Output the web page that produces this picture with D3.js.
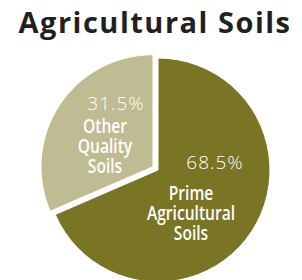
<!DOCTYPE html>
<html>
<head>
<meta charset="utf-8">
<script src="https://cdn.jsdelivr.net/npm/d3@7"></script>
<style>
  body { margin: 0; background: #fff; }
  svg { display: block; font-family: "Open Sans", sans-serif; }
</style>
</head>
<body>
<div id="chart"></div>
<script>
const width = 302;
const height = 280;

const categories = ['Prime Agricultural Soils', 'Other Quality Soils'];
const shares = [68.5, 31.5];
const pctLabels = ['68.5%', '31.5%'];
const nameLines = [['Prime', 'Agricultural', 'Soils'], ['Other', 'Quality', 'Soils']];

const color = d3.scaleOrdinal()
    .domain(categories)
    .range(['#7a7425', '#bfbb93']);

const radius = 112;
const explode = [0, 6];

const svg = d3.select('#chart').append('svg')
    .attr('width', width)
    .attr('height', height);

svg.append('text')
    .attr('x', 155)
    .attr('y', 33)
    .attr('text-anchor', 'middle')
    .style('font-size', '29px')
    .style('font-weight', 700)
    .style('letter-spacing', '1.5px')
    .style('fill', '#231f20')
    .text('Agricultural Soils');

const data = categories.map((c, i) => ({ name: c, value: shares[i], pct: pctLabels[i], lines: nameLines[i], off: explode[i] }));

const pie = d3.pie().sort(null).value(d => d.value);
const arc = d3.arc().innerRadius(0).outerRadius(radius);

const chart = svg.append('g')
    .attr('transform', `translate(${[158, 170]})`);

const slices = chart.selectAll('g.slice')
    .data(pie(data))
    .join('g')
    .attr('class', 'slice')
    .attr('transform', d => {
        const mid = (d.startAngle + d.endAngle) / 2;
        return `translate(${[Math.sin(mid) * d.data.off, -Math.cos(mid) * d.data.off]})`;
    });

slices.append('path')
    .attr('d', arc)
    .style('fill', d => color(d.data.name))
    .style('stroke', '#fff')
    .style('stroke-width', 1);

// label spots relative to each slice's own centre
const pctPos = [[57, -1], [-37, -57]];
const namePos = [[33, 30], [-48, -34]];

slices.append('text')
    .attr('transform', (d, i) => `translate(${pctPos[i]})`)
    .attr('text-anchor', 'middle')
    .style('font-size', '19px')
    .style('font-weight', 300)
    .style('fill', '#fff')
    .style('letter-spacing', '1px')
    .text(d => d.data.pct);

slices.append('text')
    .attr('transform', (d, i) => `translate(${namePos[i]}) scale(0.8,1)`)
    .attr('text-anchor', 'middle')
    .style('font-size', '19.5px')
    .style('font-weight', 600)
    .style('fill', '#fff')
    .selectAll('tspan')
    .data(d => d.data.lines)
    .join('tspan')
    .attr('x', 0)
    .attr('dy', (d, i) => i === 0 ? 0 : 20)
    .text(d => d);
</script>
</body>
</html>
